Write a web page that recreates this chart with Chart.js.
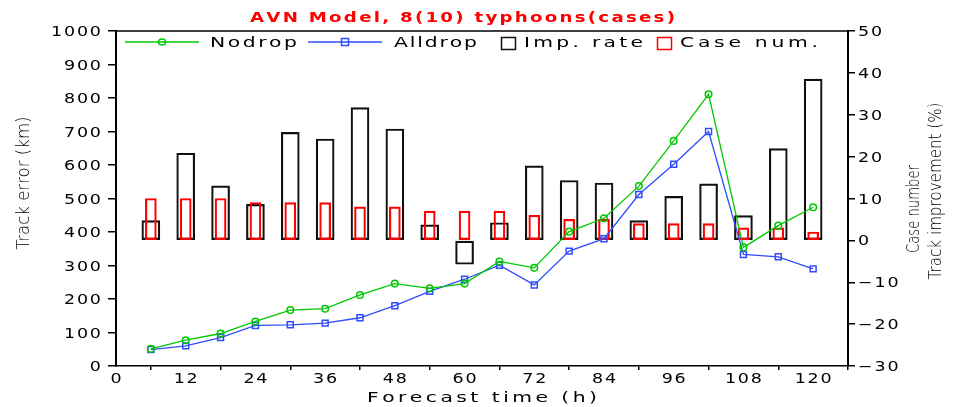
<!DOCTYPE html>
<html>
<head>
<meta charset="utf-8">
<title>AVN Model track error</title>
<script src="https://cdn.jsdelivr.net/npm/chart.js@4.4.0/dist/chart.umd.min.js"></script>
<style>
  html, body { margin: 0; padding: 0; background: #fff; }
  #wrap { width: 956px; height: 407px; }
</style>
</head>
<body>
<div id="wrap"><canvas id="myChart" width="956" height="407"></canvas></div>
<script>
// forecast hours
const hours = [6, 12, 18, 24, 30, 36, 42, 48, 54, 60, 66, 72, 78, 84, 90, 96, 102, 108, 114, 120];

// track error (km)
const nodrop  = [51, 77, 97, 133, 167, 171, 212, 246, 232, 246, 312, 293, 401, 441, 537, 672, 811, 354, 419, 474];
const alldrop = [49, 60, 85, 121, 123, 128, 144, 180, 223, 259, 301, 242, 343, 380, 512, 602, 700, 333, 326, 290];

// track improvement (%) and number of cases, right axis
const impRate = [4.7, 20.8, 13.0, 8.6, 25.8, 24.2, 31.7, 26.6, 3.7, -5.7, 4.2, 17.8, 14.3, 13.7, 4.7, 10.5, 13.5, 5.9, 21.9, 38.5];
const caseNum = [10, 10, 10, 9, 9, 9, 8, 8, 7, 7, 7, 6, 5, 5, 4, 4, 4, 3, 3, 2];

// axis ticks
const hourTicks = [0, 12, 24, 36, 48, 60, 72, 84, 96, 108, 120];
const errTicks  = [0, 100, 200, 300, 400, 500, 600, 700, 800, 900, 1000];
const rateTicks = [-30, -20, -10, 0, 10, 20, 30, 40, 50];

const GREEN = '#00c800';
const BLUE = '#2f4cff';
const RED = '#ff0000';

const pairs = (xs, ys) => xs.map((h, i) => ({ x: h, y: ys[i] }));
const setTicks = (vals) => (s) => { s.ticks = vals.map((v) => ({ value: v })); };

// draws text one glyph at a time, stretched and spaced out
function wideText(ctx, text, x, y, opt) {
  const sx = opt.stretch || 1;
  const chars = [...text];
  const w = chars.map((c) => ctx.measureText(c).width * sx);
  const sum = w.reduce((a, b) => a + b, 0);
  let gap = opt.spacing || 0;
  if (opt.width) gap = (opt.width - sum) / (chars.length - 1);
  const total = sum + gap * (chars.length - 1);
  let cx = x;
  if (opt.align === 'right') cx = x - total;
  else if (opt.align === 'center') cx = x - total / 2;
  ctx.textAlign = 'left';
  chars.forEach((c, i) => {
    ctx.save();
    ctx.translate(cx, y);
    ctx.scale(sx, 1);
    ctx.fillText(c, 0, 0);
    ctx.restore();
    cx += w[i] + gap;
  });
}

// rotated axis title squeezed to a given length
function sideTitle(ctx, text, cx, cy, len) {
  ctx.save();
  ctx.font = '200 17px "DejaVu Sans"';
  ctx.translate(cx, cy);
  ctx.rotate(-Math.PI / 2);
  const m = ctx.measureText(text).width;
  ctx.scale(len / m, 1);
  ctx.textAlign = 'center';
  ctx.textBaseline = 'middle';
  ctx.fillStyle = '#000';
  ctx.fillText(text, 0, 0);
  ctx.restore();
}

const decor = {
  id: 'decor',
  afterDraw(chart) {
    const { ctx, chartArea: a, scales } = chart;
    ctx.save();

    // top frame line
    ctx.strokeStyle = '#000';
    ctx.lineWidth = 1.5;
    ctx.beginPath();
    ctx.moveTo(a.left, a.top);
    ctx.lineTo(a.right, a.top);
    ctx.stroke();

    // tick labels
    ctx.fillStyle = '#000';
    ctx.font = '14px "DejaVu Sans"';
    ctx.textBaseline = 'alphabetic';
    hourTicks.forEach((v) => {
      wideText(ctx, String(v), scales.x.getPixelForValue(v), 383, { stretch: 1.25, spacing: 1.8, align: 'center' });
    });
    errTicks.forEach((v) => {
      wideText(ctx, String(v), 101, scales.y.getPixelForValue(v) + 5, { stretch: 1.25, spacing: 1.8, align: 'right' });
    });
    rateTicks.forEach((v) => {
      const s = v < 0 ? '\u2212' + Math.abs(v) : String(v);
      wideText(ctx, s, 858, scales.y2.getPixelForValue(v) + 5, { stretch: 1.25, spacing: 1.8 });
    });

    // x title
    wideText(ctx, 'Forecast time (h)', 367, 402, { stretch: 1.45, width: 230 });

    // title
    ctx.fillStyle = RED;
    ctx.font = 'bold 14px "DejaVu Sans"';
    wideText(ctx, 'AVN Model, 8(10) typhoons(cases)', 250, 22, { stretch: 1.3, width: 425 });

    // legend
    const ly = 42;
    ctx.lineWidth = 1.3;
    ctx.strokeStyle = GREEN;
    ctx.beginPath(); ctx.moveTo(125, ly); ctx.lineTo(199, ly); ctx.stroke();
    ctx.lineWidth = 1.5;
    ctx.beginPath(); ctx.ellipse(162, ly, 3.5, 3, 0, 0, Math.PI * 2); ctx.stroke();
    ctx.strokeStyle = BLUE;
    ctx.lineWidth = 1.3;
    ctx.beginPath(); ctx.moveTo(308, ly); ctx.lineTo(382, ly); ctx.stroke();
    ctx.lineWidth = 1.5;
    ctx.strokeRect(341.5, ly - 3.5, 7, 7);
    ctx.strokeStyle = '#111';
    ctx.strokeRect(501.5, 37.5, 14, 12);
    ctx.strokeStyle = RED;
    ctx.strokeRect(657.5, 37.5, 14, 12);

    ctx.fillStyle = '#000';
    ctx.font = '14px "DejaVu Sans"';
    wideText(ctx, 'Nodrop', 210, 47, { stretch: 1.45, width: 87 });
    wideText(ctx, 'Alldrop', 394, 47, { stretch: 1.45, width: 83 });
    wideText(ctx, 'Imp. rate', 524, 47, { stretch: 1.45, width: 119 });
    wideText(ctx, 'Case num.', 680, 47, { stretch: 1.45, width: 138 });

    // axis titles
    sideTitle(ctx, 'Track error (km)', 25, 183, 133);
    sideTitle(ctx, 'Case number', 915, 209, 88);
    sideTitle(ctx, 'Track improvement (%)', 937, 191, 177);

    ctx.restore();
  }
};

const ctx = document.getElementById('myChart');

new Chart(ctx, {
  type: 'bar',
  data: {
    datasets: [
      {
        type: 'line',
        label: 'Nodrop',
        data: pairs(hours, nodrop),
        yAxisID: 'y',
        borderColor: GREEN,
        borderWidth: 1.3,
        pointStyle: 'circle',
        pointRadius: 3.3,
        pointBorderColor: GREEN,
        pointBackgroundColor: 'rgba(0,0,0,0)',
        pointBorderWidth: 1.5,
        order: 0,
      },
      {
        type: 'line',
        label: 'Alldrop',
        data: pairs(hours, alldrop),
        yAxisID: 'y',
        borderColor: BLUE,
        borderWidth: 1.3,
        pointStyle: 'rect',
        pointRadius: 4.2,
        pointBorderColor: BLUE,
        pointBackgroundColor: 'rgba(0,0,0,0)',
        pointBorderWidth: 1.5,
        order: 0,
      },
      {
        label: 'Imp. rate',
        data: pairs(hours, impRate),
        yAxisID: 'y2',
        backgroundColor: 'rgba(0,0,0,0)',
        borderColor: '#111',
        borderWidth: 1.5,
        borderSkipped: false,
        barThickness: 18,
        grouped: false,
        order: 2,
      },
      {
        label: 'Case num.',
        data: pairs(hours, caseNum),
        yAxisID: 'y2',
        backgroundColor: 'rgba(0,0,0,0)',
        borderColor: RED,
        borderWidth: 1.5,
        borderSkipped: false,
        barThickness: 11,
        grouped: false,
        order: 1,
      },
    ],
  },
  options: {
    responsive: false,
    animation: false,
    devicePixelRatio: 1,
    layout: { padding: { top: 31, left: 0, right: 0, bottom: 0 }, autoPadding: false },
    plugins: {
      legend: { display: false },
      title: { display: false },
      tooltip: { enabled: false },
    },
    scales: {
      x: {
        type: 'linear',
        min: 0,
        max: 126,
        offset: false,
        afterBuildTicks: setTicks(hourTicks),
        afterFit: (s) => { s.height = 41; },
        ticks: { display: false },
        grid: { drawOnChartArea: false, drawTicks: true, tickLength: 4, color: '#000', lineWidth: 1.5 },
        border: { color: '#000', width: 1.5 },
      },
      y: {
        position: 'left',
        min: 0,
        max: 1000,
        afterBuildTicks: setTicks(errTicks),
        afterFit: (s) => { s.width = 116; },
        ticks: { display: false },
        grid: { drawOnChartArea: false, drawTicks: true, tickLength: 8, color: '#000', lineWidth: 1.5 },
        border: { color: '#000', width: 2 },
      },
      y2: {
        position: 'right',
        min: -30,
        max: 50,
        afterBuildTicks: setTicks(rateTicks),
        afterFit: (s) => { s.width = 108; },
        ticks: { display: false },
        grid: { drawOnChartArea: false, drawTicks: true, tickLength: 7, color: '#000', lineWidth: 1.5 },
        border: { color: '#000', width: 2 },
      },
    },
  },
  plugins: [decor],
});
</script>
</body>
</html>
